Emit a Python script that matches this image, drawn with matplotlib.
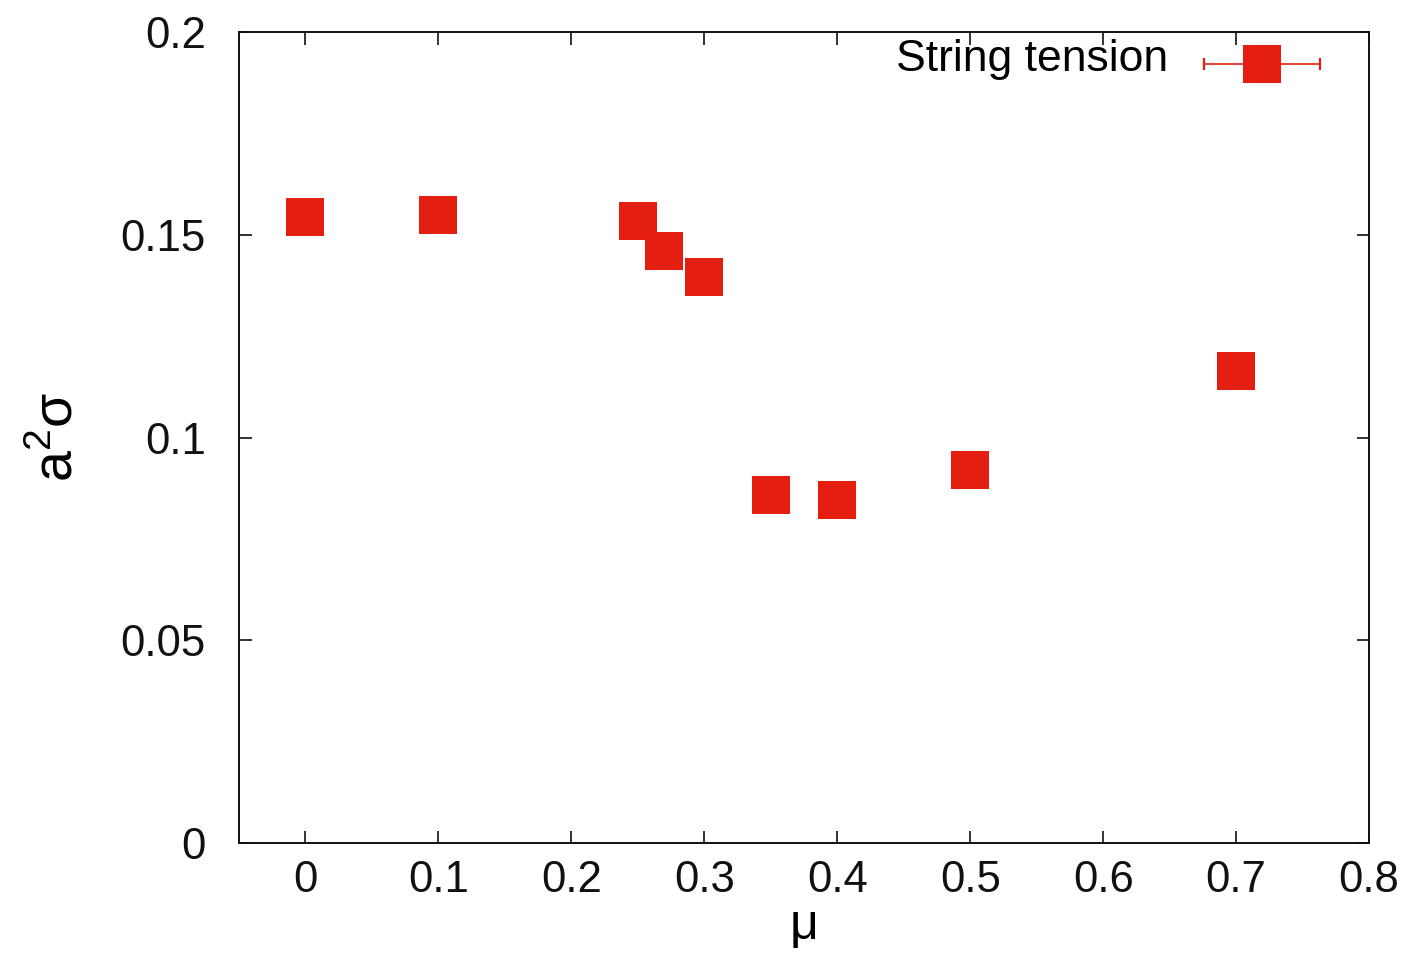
import matplotlib
matplotlib.use('Agg')
import matplotlib.pyplot as plt

# data
mu = [0.0, 0.1, 0.25, 0.27, 0.3, 0.35, 0.4, 0.5, 0.7]
a2sigma = [0.1544, 0.1549, 0.1534, 0.1460, 0.1396, 0.0858, 0.0846, 0.0920, 0.1164]
a2sigma_err = [0.002, 0.002, 0.002, 0.002, 0.002, 0.002, 0.002, 0.002, 0.002]

xticks = [0, 0.1, 0.2, 0.3, 0.4, 0.5, 0.6, 0.7, 0.8]
xticklabels = ['0', '0.1', '0.2', '0.3', '0.4', '0.5', '0.6', '0.7', '0.8']
yticks = [0, 0.05, 0.1, 0.15, 0.2]
yticklabels = ['0', '0.05', '0.1', '0.15', '0.2']

red = '#E41E10'

plt.rcParams['font.family'] = ['Liberation Sans', 'DejaVu Sans']
plt.rcParams['mathtext.fontset'] = 'custom'
plt.rcParams['mathtext.rm'] = 'Liberation Sans'

fig = plt.figure(figsize=(14.05, 9.58), dpi=100)
ax = fig.add_axes([0.1701, 0.12, 0.8043, 0.8466])

ax.errorbar(mu, a2sigma, yerr=a2sigma_err, fmt='s', color=red, ms=27,
            mew=0, elinewidth=1.2, capsize=4, zorder=3)

ax.set_xlim(-0.05, 0.8)
ax.set_ylim(0, 0.2)
ax.set_xticks(xticks)
ax.set_xticklabels(xticklabels)
ax.set_yticks(yticks)
ax.set_yticklabels(yticklabels)
ax.tick_params(direction='in', length=9, width=1.2, top=True, right=True,
               labelsize=31.5, colors='#111111')
ax.tick_params(axis='y', pad=24)
ax.tick_params(axis='x', pad=12)
for s in ax.spines.values():
    s.set_linewidth(1.4)
    s.set_color('#111111')

ax.set_xlabel('μ', fontsize=36, labelpad=2)
ax.set_ylabel(r'a$^{\mathregular{2}}$σ', fontsize=40, labelpad=26)

# key, gnuplot style: horizontal bar with end caps and a square
ax.text(0.822, 0.966, 'String tension', transform=ax.transAxes,
        ha='right', va='center', fontsize=32)
ax.plot([0.8537, 0.9563], [0.9605, 0.9605], color=red, lw=1.2,
        marker='|', ms=9, mew=1.6, transform=ax.transAxes, clip_on=False)
ax.plot([0.905], [0.9605], 's', color=red, ms=27, mew=0,
        transform=ax.transAxes, clip_on=False)

plt.savefig('out.png', dpi=100)
